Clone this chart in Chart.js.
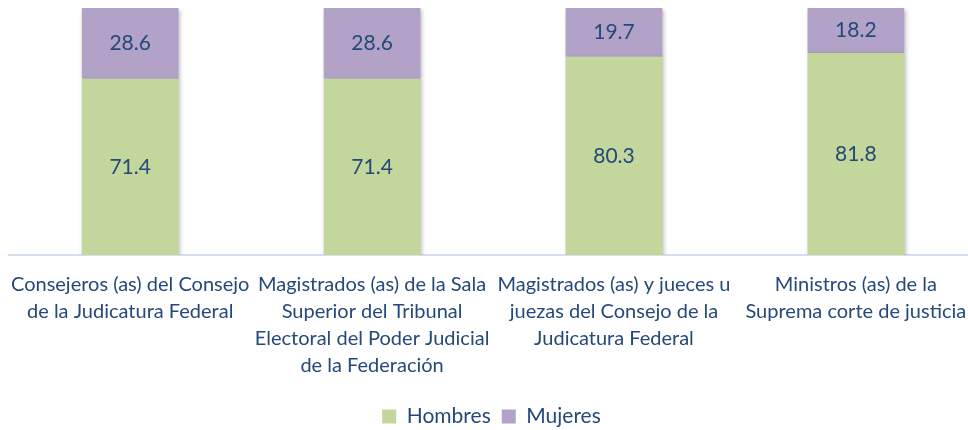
<!DOCTYPE html>
<html>
<head>
<meta charset="utf-8">
<script src="https://cdn.jsdelivr.net/npm/chart.js@4"></script>
<style>
  html, body { margin: 0; padding: 0; background: #fff; overflow: hidden; }
  #wrap { position: absolute; left: -6px; top: 0; width: 988px; height: 437px; }
</style>
</head>
<body>
<div id="wrap"><canvas id="chart"></canvas></div>
<script>
const categories = [
    ['Consejeros (as) del Consejo', 'de la Judicatura Federal'],
    ['Magistrados (as) de la Sala', 'Superior del Tribunal', 'Electoral del Poder Judicial', 'de la Federación'],
    ['Magistrados (as) y jueces u', 'juezas del Consejo de la', 'Judicatura Federal'],
    ['Ministros (as) de la', 'Suprema corte de justicia']
];
const hombres = [71.4, 71.4, 80.3, 81.8];
const mujeres = [28.6, 28.6, 19.7, 18.2];

const textColor = '#24497a';
const fontFamily = 'Lato, "Open Sans", sans-serif';

// Draw the value inside each bar segment
const valueLabels = {
    id: 'valueLabels',
    afterDatasetsDraw(chart) {
        const ctx = chart.ctx;
        ctx.save();
        ctx.font = '21px ' + fontFamily;
        ctx.fillStyle = textColor;
        ctx.textAlign = 'center';
        ctx.textBaseline = 'middle';
        chart.data.datasets.forEach((ds, i) => {
            chart.getDatasetMeta(i).data.forEach((bar, j) => {
                const y = (bar.y + bar.base) / 2;
                ctx.fillText(ds.data[j].toFixed(1), bar.x, y);
            });
        });
        ctx.restore();
    }
};

// Soft shadow behind bars
const barShadow = {
    id: 'barShadow',
    beforeDatasetsDraw(chart) {
        const ctx = chart.ctx;
        ctx.save();
        ctx.shadowColor = 'rgba(0,0,0,0.25)';
        ctx.shadowBlur = 4;
        ctx.shadowOffsetX = 1.5;
        ctx.shadowOffsetY = 1.5;
    },
    afterDatasetsDraw(chart) {
        chart.ctx.restore();
    }
};

new Chart(document.getElementById('chart'), {
    type: 'bar',
    data: {
        labels: categories,
        datasets: [
            {
                label: 'Hombres',
                data: hombres,
                backgroundColor: '#c3d69b',
                barPercentage: 0.4,
                categoryPercentage: 1
            },
            {
                label: 'Mujeres',
                data: mujeres,
                backgroundColor: '#b3a2c7',
                barPercentage: 0.4,
                categoryPercentage: 1
            }
        ]
    },
    options: {
        responsive: true,
        maintainAspectRatio: false,
        animation: false,
        layout: { padding: { left: 10, right: 3, top: 8, bottom: 0 } },
        plugins: {
            legend: {
                position: 'bottom',
                labels: {
                    color: textColor,
                    font: { family: fontFamily, size: 21 },
                    boxWidth: 14,
                    boxHeight: 14,
                    padding: 11
                }
            },
            tooltip: { enabled: false }
        },
        scales: {
            x: {
                stacked: true,
                grid: { display: false, drawTicks: false },
                border: { color: '#d6dff0', width: 2 },
                ticks: {
                    color: textColor,
                    font: { family: fontFamily, size: 20, lineHeight: 1.35 },
                    padding: 16,
                    maxRotation: 0,
                    autoSkip: false
                }
            },
            y: {
                stacked: true,
                display: false,
                min: 0,
                max: 100
            }
        }
    },
    plugins: [barShadow, valueLabels]
});
</script>
</body>
</html>
